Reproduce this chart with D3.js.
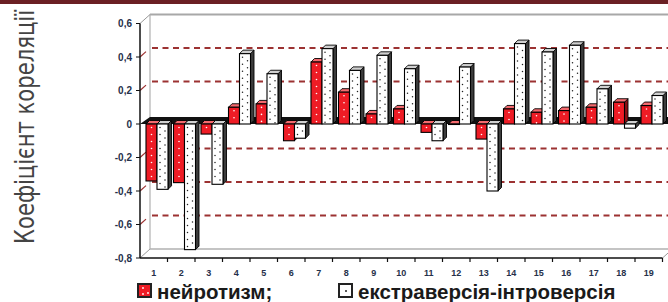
<!DOCTYPE html>
<html>
<head>
<meta charset="utf-8">
<script src="https://cdn.jsdelivr.net/npm/d3@7"></script>
<style>
  html, body { margin: 0; padding: 0; background: #fff; }
  svg { display: block; }
</style>
</head>
<body>
<div id="chart"></div>
<script>
const categories = d3.range(1, 20).map(String);
const neuroValues = [-0.34, -0.35, -0.06, 0.10, 0.12, -0.10, 0.37, 0.19, 0.06, 0.09,
  -0.05, 0.0, -0.09, 0.09, 0.07, 0.08, 0.10, 0.13, 0.11];
const extraValues = [-0.39, -0.75, -0.36, 0.42, 0.30, -0.085, 0.45, 0.32, 0.41, 0.33,
  -0.10, 0.34, -0.40, 0.48, 0.43, 0.47, 0.21, -0.025, 0.17];
const yTicks = [0.6, 0.4, 0.2, 0, -0.2, -0.4, -0.6, -0.8];
const gridTicks = [0.4, 0.2, -0.2, -0.4, -0.6];
const seriesNames = ["нейротизм;", "екстраверсія-інтроверсія"];
const yTitle = "Коефіцієнт кореляції";

const W = 668, H = 302;
const xLeft = 140, xRight = 662.5, yTop = 23.5, yBottom = 258;
const wallDx = 10, wallDy = -9;   // perspective offset of the back wall
const barD = 3.5;                 // depth of each 3D bar

const svg = d3.select("#chart").append("svg")
  .attr("width", W)
  .attr("height", H);

const x = d3.scaleBand()
  .domain(categories)
  .range([xLeft, xRight])
  .padding(0);

const y = d3.scaleLinear()
  .domain([-0.8, 0.6])
  .range([yBottom, yTop]);

// dark red strip at the very top of the page
svg.append("rect")
  .attr("x", 0).attr("y", 0)
  .attr("width", W).attr("height", 4)
  .attr("fill", "#6b2024");

// back wall frame
const bx0 = xLeft + wallDx, bx1 = W + 2;
svg.append("line")
  .attr("x1", bx0).attr("x2", bx1)
  .attr("y1", y(0.6) + wallDy).attr("y2", y(0.6) + wallDy)
  .attr("stroke", "#a8a8a8").attr("stroke-width", 2);
svg.append("line")
  .attr("x1", bx0).attr("x2", bx0)
  .attr("y1", y(0.6) + wallDy).attr("y2", y(-0.8) + wallDy)
  .attr("stroke", "#b0b0b0").attr("stroke-width", 1.2);
svg.append("line")
  .attr("x1", bx0).attr("x2", bx1)
  .attr("y1", y(-0.8) + wallDy).attr("y2", y(-0.8) + wallDy)
  .attr("stroke", "#b0b0b0").attr("stroke-width", 1.5);
// side wall diagonals
[[xLeft, y(0.6)], [xLeft, y(-0.8)], [xRight, y(-0.8)]].forEach(([px, py]) => {
  svg.append("line")
    .attr("x1", px).attr("y1", py)
    .attr("x2", px + wallDx).attr("y2", py + wallDy)
    .attr("stroke", "#999").attr("stroke-width", 1);
});

// dashed grid lines on the back wall, with their slant on the side wall
const grid = svg.append("g");
gridTicks.forEach(t => {
  grid.append("line")
    .attr("x1", bx0 + 2).attr("x2", bx1)
    .attr("y1", y(t) + wallDy).attr("y2", y(t) + wallDy)
    .attr("stroke", "#9c3232").attr("stroke-width", 1.8)
    .attr("stroke-dasharray", "6,4.5");
  grid.append("line")
    .attr("x1", xLeft).attr("y1", y(t))
    .attr("x2", xLeft + 6).attr("y2", y(t) + wallDy * 0.6)
    .attr("stroke", "#9c3232").attr("stroke-width", 1.2);
});

// zero plane (black floor at 0)
svg.append("path")
  .attr("d", `M${xLeft},${y(0)} L${xLeft + wallDx},${y(0) - 7} L${bx1},${y(0) - 7} L${xRight + 6},${y(0)} Z`)
  .attr("fill", "#111");

// bars
const bars = svg.append("g");
function drawBar(cx, w, v, kind) {
  const t = y(Math.max(v, 0)), b = y(Math.min(v, 0));
  const front = kind === "red" ? "#ee1c25" : "#ffffff";
  const side = kind === "red" ? "#8a0e12" : "#3c3c3c";
  const topFace = kind === "red" ? "#f46a6e" : "#d0d0d0";
  const g = bars.append("g");
  g.append("path")
    .attr("d", `M${cx + w},${t} L${cx + w + barD},${t - barD} L${cx + w + barD},${b - barD} L${cx + w},${b} Z`)
    .attr("fill", side).attr("stroke", "#000").attr("stroke-width", 0.9);
  g.append("path")
    .attr("d", `M${cx},${t} L${cx + barD},${t - barD} L${cx + w + barD},${t - barD} L${cx + w},${t} Z`)
    .attr("fill", topFace).attr("stroke", "#000").attr("stroke-width", 0.9);
  g.append("rect")
    .attr("x", cx).attr("y", t)
    .attr("width", w).attr("height", Math.max(b - t, 0.5))
    .attr("fill", front).attr("stroke", "#000").attr("stroke-width", 1.1);
  // dotted texture
  const rows = d3.range(t + 3.5, b - 1, 3.5);
  rows.forEach((ry, i) => {
    if (kind === "red") {
      if (i % 2 === 0) g.append("circle").attr("cx", cx + w / 2).attr("cy", ry).attr("r", 0.8).attr("fill", "#fff");
    } else {
      g.append("circle")
        .attr("cx", cx + (i % 2 === 0 ? 3 : 8)).attr("cy", ry)
        .attr("r", 0.75).attr("fill", "#222");
    }
  });
}
categories.forEach((c, i) => {
  drawBar(x(c) + 6, 11, neuroValues[i], "red");
  drawBar(x(c) + 17, 11, extraValues[i], "white");
});

// front axes
svg.append("line")
  .attr("x1", xLeft).attr("x2", xLeft)
  .attr("y1", yTop).attr("y2", yBottom)
  .attr("stroke", "#111").attr("stroke-width", 1.5);
svg.append("line")
  .attr("x1", xLeft).attr("x2", xRight)
  .attr("y1", yBottom).attr("y2", yBottom)
  .attr("stroke", "#111").attr("stroke-width", 1.5);
svg.append("g")
  .selectAll("line")
  .data(categories)
  .join("line")
  .attr("x1", d => x(d) + x.bandwidth()).attr("x2", d => x(d) + x.bandwidth())
  .attr("y1", yBottom).attr("y2", yBottom + 4)
  .attr("stroke", "#111").attr("stroke-width", 1.2);
svg.append("g")
  .selectAll("line")
  .data(yTicks)
  .join("line")
  .attr("x1", xLeft - 4).attr("x2", xLeft)
  .attr("y1", d => y(d)).attr("y2", d => y(d))
  .attr("stroke", "#111").attr("stroke-width", 1);

// tick labels
svg.append("g")
  .selectAll("text")
  .data(yTicks)
  .join("text")
  .attr("x", 132)
  .attr("y", d => y(d) + 3.5)
  .attr("text-anchor", "end")
  .style("font-family", "'Liberation Sans', Arial, sans-serif")
  .style("font-size", "10px")
  .style("font-weight", "700")
  .attr("fill", "#26304a")
  .text(d => d === 0 ? "0" : d3.format(".1f")(d).replace("−", "-").replace(".", ","));

svg.append("g")
  .selectAll("text")
  .data(categories)
  .join("text")
  .attr("x", d => x(d) + x.bandwidth() / 2)
  .attr("y", 276)
  .attr("text-anchor", "middle")
  .style("font-family", "'Liberation Sans', Arial, sans-serif")
  .style("font-size", "9px")
  .style("font-weight", "700")
  .attr("fill", "#26304a")
  .text(d => d);

// y axis title (narrow, tall lettering)
svg.append("text")
  .attr("transform", "translate(34,127) rotate(-90) scale(1,1.22)")
  .attr("text-anchor", "middle")
  .attr("textLength", 234)
  .attr("lengthAdjust", "spacingAndGlyphs")
  .style("font-family", "'Liberation Sans Narrow', 'DejaVu Sans Condensed', sans-serif")
  .style("font-size", "22px")
  .attr("fill", "#444")
  .text(yTitle);

// legend
const legendPos = [137, 338];
const legend = svg.append("g");
seriesNames.forEach((name, i) => {
  const lx = legendPos[i];
  legend.append("rect")
    .attr("x", lx + 1).attr("y", 284)
    .attr("width", 13).attr("height", 13)
    .attr("fill", i === 0 ? "#ee1c25" : "#fff")
    .attr("stroke", "#222").attr("stroke-width", 2);
  if (i === 0) {
    [[5, 4], [10, 9], [5, 10]].forEach(([dx, dy]) => {
      legend.append("circle").attr("cx", lx + 1 + dx).attr("cy", 284 + dy).attr("r", 0.9).attr("fill", "#fff");
    });
  } else {
    legend.append("circle").attr("cx", lx + 8).attr("cy", 291).attr("r", 1).attr("fill", "#222");
  }
  legend.append("text")
    .attr("x", lx + 20)
    .attr("y", 299)
    .style("font-family", "'Liberation Sans', Arial, sans-serif")
    .style("font-size", "20.5px")
    .style("font-weight", "700")
    .attr("fill", "#1a1a1a")
    .text(name);
});
</script>
</body>
</html>
